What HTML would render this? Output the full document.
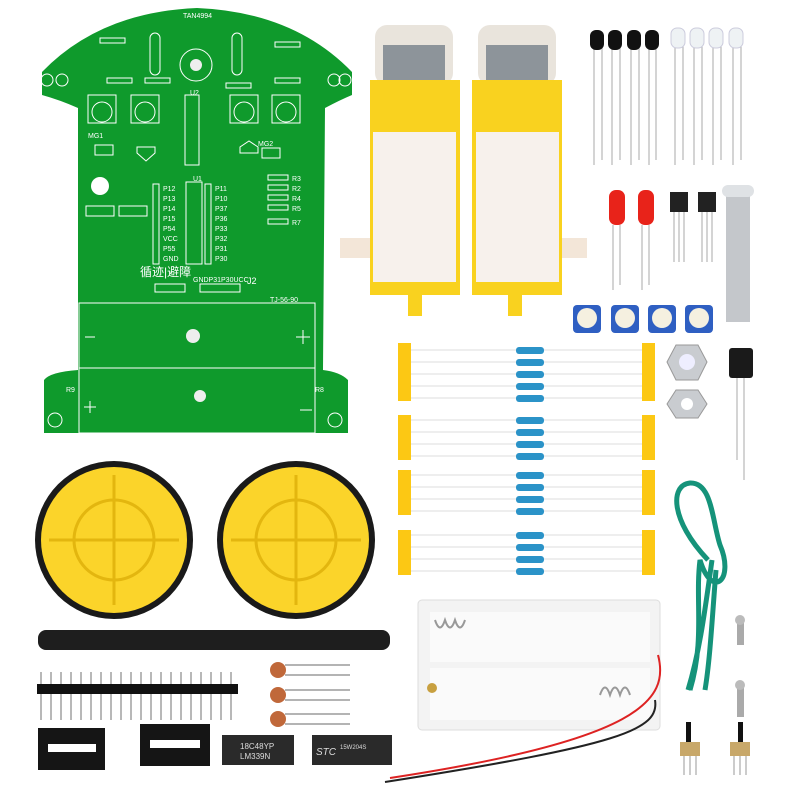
<!DOCTYPE html>
<html><head><meta charset="utf-8"><style>
html,body{margin:0;padding:0;background:#fff;width:800px;height:800px;overflow:hidden}
svg text{font-family:"Liberation Sans","Noto Sans CJK SC",sans-serif}
</style></head><body>
<svg width="800" height="800" viewBox="0 0 800 800" xmlns="http://www.w3.org/2000/svg">
<rect width="800" height="800" fill="#fff"/>
<!-- PCB -->
<path d="M42,95 L42,72 Q100,12 197,8 Q294,12 352,72 L352,95 Q340,100 325,108 L323,370 Q340,372 348,380 L348,433 L44,433 L44,380 Q50,372 78,370 L78,108 Q60,100 42,95 Z" fill="#0f9a2c"/>
<g stroke="#fff" fill="none" stroke-width="1">
<rect x="79" y="303" width="236" height="130"/>
<line x1="79" y1="368" x2="315" y2="368"/>
<rect x="153" y="184" width="6" height="80"/><rect x="205" y="184" width="6" height="80"/>
<rect x="186" y="182" width="16" height="82"/><rect x="185" y="95" width="14" height="70"/>
<circle cx="196" cy="65" r="16"/>
<rect x="88" y="95" width="28" height="28"/><rect x="131" y="95" width="28" height="28"/>
<rect x="230" y="95" width="28" height="28"/><rect x="272" y="95" width="28" height="28"/>
<circle cx="102" cy="112" r="10"/><circle cx="145" cy="112" r="10"/><circle cx="244" cy="112" r="10"/><circle cx="286" cy="112" r="10"/>
<rect x="150" y="33" width="10" height="42" rx="5"/><rect x="232" y="33" width="10" height="42" rx="5"/>
<rect x="100" y="38" width="25" height="5"/><rect x="275" y="42" width="25" height="5"/>
<rect x="107" y="78" width="25" height="5"/><rect x="145" y="78" width="25" height="5"/>
<rect x="226" y="83" width="25" height="5"/><rect x="275" y="78" width="25" height="5"/>
<rect x="268" y="175" width="20" height="5"/><rect x="268" y="185" width="20" height="5"/><rect x="268" y="195" width="20" height="5"/><rect x="268" y="205" width="20" height="5"/><rect x="268" y="219" width="20" height="5"/>
<rect x="86" y="206" width="28" height="10"/><rect x="119" y="206" width="28" height="10"/>
<rect x="95" y="145" width="18" height="10"/><rect x="262" y="148" width="18" height="10"/>
<rect x="155" y="284" width="30" height="8"/><rect x="200" y="284" width="40" height="8"/>
<path d="M137,147 h18 v6 l-9,8 l-9,-8 z"/><path d="M240,153 h18 v-6 l-9,-6 l-9,6 z"/>
<line x1="85" y1="337" x2="95" y2="337"/><line x1="296" y1="337" x2="310" y2="337"/><line x1="303" y1="330" x2="303" y2="344"/>
<line x1="84" y1="407" x2="96" y2="407"/><line x1="90" y1="401" x2="90" y2="413"/><line x1="300" y1="410" x2="312" y2="410"/>
<circle cx="47" cy="80" r="6"/><circle cx="62" cy="80" r="6"/><circle cx="334" cy="80" r="6"/><circle cx="345" cy="80" r="6"/>
<circle cx="55" cy="420" r="7"/><circle cx="335" cy="420" r="7"/>
</g>
<circle cx="196" cy="65" r="6" fill="#eee"/><circle cx="193" cy="336" r="7" fill="#eee"/><circle cx="200" cy="396" r="6" fill="#eee"/>
<circle cx="100" cy="186" r="9" fill="#fff"/>
<g fill="#fff" font-size="7">
<text x="183" y="18">TAN4994</text><text x="140" y="276" font-size="12">循迹|避障</text>
<text x="193" y="282">GNDP31P30UCC</text><text x="247" y="284" font-size="9">J2</text>
<text x="270" y="302">TJ-56-90</text><text x="88" y="138">MG1</text><text x="258" y="146">MG2</text>
<text x="163" y="191">P12</text><text x="163" y="201">P13</text><text x="163" y="211">P14</text><text x="163" y="221">P15</text><text x="163" y="231">P54</text><text x="163" y="241">VCC</text><text x="163" y="251">P55</text><text x="163" y="261">GND</text>
<text x="215" y="191">P11</text><text x="215" y="201">P10</text><text x="215" y="211">P37</text><text x="215" y="221">P36</text><text x="215" y="231">P33</text><text x="215" y="241">P32</text><text x="215" y="251">P31</text><text x="215" y="261">P30</text>
<text x="292" y="181">R3</text><text x="292" y="191">R2</text><text x="292" y="201">R4</text><text x="292" y="211">R5</text><text x="292" y="225">R7</text>
<text x="190" y="95">U2</text><text x="193" y="181">U1</text><text x="66" y="392">R9</text><text x="315" y="392">R8</text>
</g>
<!-- motors -->
<g>
<rect x="340" y="238" width="34" height="20" fill="#f3e6d8"/><rect x="555" y="238" width="32" height="20" fill="#f3e6d8"/>
<rect x="375" y="25" width="78" height="60" rx="12" fill="#e9e4dc"/><rect x="383" y="45" width="62" height="40" fill="#8d949a"/>
<rect x="478" y="25" width="78" height="60" rx="12" fill="#e9e4dc"/><rect x="486" y="45" width="62" height="40" fill="#8d949a"/>
<rect x="370" y="80" width="90" height="215" fill="#f9d21f"/><rect x="472" y="80" width="90" height="215" fill="#f9d21f"/>
<rect x="373" y="132" width="83" height="150" fill="#f7f1ec"/><rect x="476" y="132" width="83" height="150" fill="#f7f1ec"/>
<rect x="408" y="290" width="14" height="26" fill="#f9d21f"/><rect x="508" y="290" width="14" height="26" fill="#f9d21f"/>
</g>
<!-- LEDs -->
<g stroke="#aaa" stroke-width="1">
<line x1="594" y1="45" x2="594" y2="165"/><line x1="602" y1="45" x2="602" y2="160"/>
<line x1="612" y1="45" x2="612" y2="165"/><line x1="620" y1="45" x2="620" y2="160"/>
<line x1="631" y1="45" x2="631" y2="165"/><line x1="639" y1="45" x2="639" y2="160"/>
<line x1="649" y1="45" x2="649" y2="165"/><line x1="656" y1="45" x2="656" y2="160"/>
<line x1="675" y1="45" x2="675" y2="165"/><line x1="683" y1="45" x2="683" y2="160"/>
<line x1="694" y1="45" x2="694" y2="165"/><line x1="702" y1="45" x2="702" y2="160"/>
<line x1="713" y1="45" x2="713" y2="165"/><line x1="721" y1="45" x2="721" y2="160"/>
<line x1="733" y1="45" x2="733" y2="165"/><line x1="741" y1="45" x2="741" y2="160"/>
<line x1="613" y1="225" x2="613" y2="290"/><line x1="620" y1="225" x2="620" y2="285"/>
<line x1="642" y1="225" x2="642" y2="290"/><line x1="649" y1="225" x2="649" y2="285"/>
<line x1="674" y1="210" x2="674" y2="262"/><line x1="679" y1="210" x2="679" y2="262"/><line x1="684" y1="210" x2="684" y2="262"/>
<line x1="702" y1="210" x2="702" y2="262"/><line x1="707" y1="210" x2="707" y2="262"/><line x1="712" y1="210" x2="712" y2="262"/>
<line x1="737" y1="375" x2="737" y2="460"/><line x1="744" y1="375" x2="744" y2="480"/>
</g>
<g fill="#111"><rect x="590" y="30" width="14" height="20" rx="6"/><rect x="608" y="30" width="14" height="20" rx="6"/><rect x="627" y="30" width="14" height="20" rx="6"/><rect x="645" y="30" width="14" height="20" rx="6"/></g>
<g fill="#eef2f4" stroke="#ccd"><rect x="671" y="28" width="14" height="20" rx="6"/><rect x="690" y="28" width="14" height="20" rx="6"/><rect x="709" y="28" width="14" height="20" rx="6"/><rect x="729" y="28" width="14" height="20" rx="6"/></g>
<rect x="609" y="190" width="16" height="35" rx="7" fill="#e8231a"/><rect x="638" y="190" width="16" height="35" rx="7" fill="#e8231a"/>
<rect x="670" y="192" width="18" height="20" fill="#222"/><rect x="698" y="192" width="18" height="20" fill="#222"/>
<rect x="726" y="192" width="24" height="130" fill="#c4c7cb"/><rect x="722" y="185" width="32" height="12" rx="6" fill="#dfe2e5"/>
<!-- pots -->
<g fill="#2f5fc2"><rect x="573" y="305" width="28" height="28" rx="4"/><rect x="611" y="305" width="28" height="28" rx="4"/><rect x="648" y="305" width="28" height="28" rx="4"/><rect x="685" y="305" width="28" height="28" rx="4"/></g>
<g fill="#f5f0e0"><circle cx="587" cy="318" r="10"/><circle cx="625" cy="318" r="10"/><circle cx="662" cy="318" r="10"/><circle cx="699" cy="318" r="10"/></g>
<!-- resistor strips -->
<g fill="#fcc814">
<rect x="398" y="343" width="13" height="58"/><rect x="642" y="343" width="13" height="58"/>
<rect x="398" y="415" width="13" height="45"/><rect x="642" y="415" width="13" height="45"/>
<rect x="398" y="470" width="13" height="45"/><rect x="642" y="470" width="13" height="45"/>
<rect x="398" y="530" width="13" height="45"/><rect x="642" y="530" width="13" height="45"/>
</g>
<g stroke="#ddd" stroke-width="1">
<line x1="411" y1="350" x2="642" y2="350"/><line x1="411" y1="362" x2="642" y2="362"/><line x1="411" y1="374" x2="642" y2="374"/><line x1="411" y1="386" x2="642" y2="386"/><line x1="411" y1="398" x2="642" y2="398"/>
<line x1="411" y1="420" x2="642" y2="420"/><line x1="411" y1="432" x2="642" y2="432"/><line x1="411" y1="444" x2="642" y2="444"/><line x1="411" y1="456" x2="642" y2="456"/>
<line x1="411" y1="475" x2="642" y2="475"/><line x1="411" y1="487" x2="642" y2="487"/><line x1="411" y1="499" x2="642" y2="499"/><line x1="411" y1="511" x2="642" y2="511"/>
<line x1="411" y1="535" x2="642" y2="535"/><line x1="411" y1="547" x2="642" y2="547"/><line x1="411" y1="559" x2="642" y2="559"/><line x1="411" y1="571" x2="642" y2="571"/>
</g>
<g fill="#2b93c8">
<rect x="516" y="347" width="28" height="7" rx="3"/><rect x="516" y="359" width="28" height="7" rx="3"/><rect x="516" y="371" width="28" height="7" rx="3"/><rect x="516" y="383" width="28" height="7" rx="3"/><rect x="516" y="395" width="28" height="7" rx="3"/>
<rect x="516" y="417" width="28" height="7" rx="3"/><rect x="516" y="429" width="28" height="7" rx="3"/><rect x="516" y="441" width="28" height="7" rx="3"/><rect x="516" y="453" width="28" height="7" rx="3"/>
<rect x="516" y="472" width="28" height="7" rx="3"/><rect x="516" y="484" width="28" height="7" rx="3"/><rect x="516" y="496" width="28" height="7" rx="3"/><rect x="516" y="508" width="28" height="7" rx="3"/>
<rect x="516" y="532" width="28" height="7" rx="3"/><rect x="516" y="544" width="28" height="7" rx="3"/><rect x="516" y="556" width="28" height="7" rx="3"/><rect x="516" y="568" width="28" height="7" rx="3"/>
</g>
<!-- nuts / cap -->
<polygon points="676,345 698,345 707,362 698,380 676,380 667,362" fill="#c9ccd0" stroke="#999"/><circle cx="687" cy="362" r="8" fill="#eef"/>
<polygon points="676,390 698,390 707,404 698,418 676,418 667,404" fill="#c9ccd0" stroke="#999"/><circle cx="687" cy="404" r="6" fill="#fff"/>
<rect x="729" y="348" width="24" height="30" rx="3" fill="#1a1a1a"/>
<!-- green wire -->
<path d="M708,560 C670,520 670,485 690,483 C712,482 712,520 720,545 C735,580 712,600 700,560 C695,600 705,640 690,690 M712,560 C705,610 700,650 688,690 M716,570 C712,620 710,660 705,690" stroke="#15937a" stroke-width="5" fill="none"/>
<!-- wheels -->
<circle cx="114" cy="540" r="79" fill="#1a1a1a"/><circle cx="114" cy="540" r="73" fill="#fbd42a"/>
<circle cx="296" cy="540" r="79" fill="#1a1a1a"/><circle cx="296" cy="540" r="73" fill="#fbd42a"/>
<g stroke="#e3b60f" stroke-width="3" fill="none">
<circle cx="114" cy="540" r="40"/><circle cx="296" cy="540" r="40"/>
<line x1="114" y1="475" x2="114" y2="605"/><line x1="49" y1="540" x2="179" y2="540"/>
<line x1="296" y1="475" x2="296" y2="605"/><line x1="231" y1="540" x2="361" y2="540"/>
</g>
<!-- heat shrink -->
<rect x="38" y="630" width="352" height="20" rx="8" fill="#1e1e1e"/>
<!-- header -->
<g stroke="#888" stroke-width="1.2">
<line x1="41" y1="672" x2="41" y2="720"/><line x1="51" y1="672" x2="51" y2="720"/><line x1="61" y1="672" x2="61" y2="720"/><line x1="71" y1="672" x2="71" y2="720"/><line x1="81" y1="672" x2="81" y2="720"/><line x1="91" y1="672" x2="91" y2="720"/><line x1="101" y1="672" x2="101" y2="720"/><line x1="111" y1="672" x2="111" y2="720"/><line x1="121" y1="672" x2="121" y2="720"/><line x1="131" y1="672" x2="131" y2="720"/><line x1="141" y1="672" x2="141" y2="720"/><line x1="151" y1="672" x2="151" y2="720"/><line x1="161" y1="672" x2="161" y2="720"/><line x1="171" y1="672" x2="171" y2="720"/><line x1="181" y1="672" x2="181" y2="720"/><line x1="191" y1="672" x2="191" y2="720"/><line x1="201" y1="672" x2="201" y2="720"/><line x1="211" y1="672" x2="211" y2="720"/><line x1="221" y1="672" x2="221" y2="720"/><line x1="231" y1="672" x2="231" y2="720"/>
<line x1="285" y1="665" x2="350" y2="665"/><line x1="285" y1="675" x2="350" y2="675"/><line x1="285" y1="690" x2="350" y2="690"/><line x1="285" y1="700" x2="350" y2="700"/><line x1="285" y1="714" x2="350" y2="714"/><line x1="285" y1="724" x2="350" y2="724"/>
</g>
<rect x="37" y="684" width="201" height="10" fill="#111"/>
<g fill="#c0683a"><circle cx="278" cy="670" r="8"/><circle cx="278" cy="695" r="8"/><circle cx="278" cy="719" r="8"/></g>
<!-- sockets & ICs -->
<rect x="38" y="728" width="67" height="42" fill="#151515"/><rect x="48" y="744" width="48" height="8" fill="#fff"/>
<rect x="140" y="724" width="70" height="42" fill="#151515"/><rect x="150" y="740" width="50" height="8" fill="#fff"/>
<rect x="222" y="735" width="72" height="30" fill="#2a2a2a"/><rect x="312" y="735" width="80" height="30" fill="#2a2a2a"/>
<g fill="#ddd" font-size="8"><text x="240" y="749">18C48YP</text><text x="240" y="759">LM339N</text><text x="316" y="755" font-size="10" font-style="italic">STC</text><text x="340" y="749" font-size="6">15W204S</text></g>
<!-- battery holder -->
<rect x="418" y="600" width="242" height="130" rx="4" fill="#f3f3f3" stroke="#ddd"/>
<rect x="430" y="612" width="220" height="50" fill="#fafafa"/><rect x="430" y="668" width="220" height="52" fill="#fafafa"/>
<path d="M435,620 q5,15 10,0 q5,15 10,0 q5,15 10,0" stroke="#999" stroke-width="2" fill="none"/>
<path d="M600,695 q5,-15 10,0 q5,-15 10,0 q5,-15 10,0" stroke="#999" stroke-width="2" fill="none"/>
<circle cx="432" cy="688" r="5" fill="#c8a040"/>
<path d="M658,655 C670,700 640,740 390,778" stroke="#d22" stroke-width="2" fill="none"/>
<path d="M655,700 C660,730 620,745 385,782" stroke="#222" stroke-width="2" fill="none"/>
<!-- screws & switches -->
<rect x="737" y="620" width="7" height="25" fill="#aaa"/><circle cx="740" cy="620" r="5" fill="#bbb"/>
<rect x="737" y="685" width="7" height="32" fill="#aaa"/><circle cx="740" cy="685" r="5" fill="#bbb"/>
<rect x="686" y="722" width="5" height="25" fill="#111"/><rect x="680" y="742" width="20" height="14" fill="#c8a86a"/>
<rect x="738" y="722" width="5" height="25" fill="#111"/><rect x="730" y="742" width="20" height="14" fill="#c8a86a"/>
<g stroke="#999"><line x1="684" y1="756" x2="684" y2="775"/><line x1="690" y1="756" x2="690" y2="775"/><line x1="696" y1="756" x2="696" y2="775"/><line x1="734" y1="756" x2="734" y2="775"/><line x1="740" y1="756" x2="740" y2="775"/><line x1="746" y1="756" x2="746" y2="775"/></g>
</svg>
</body></html>
